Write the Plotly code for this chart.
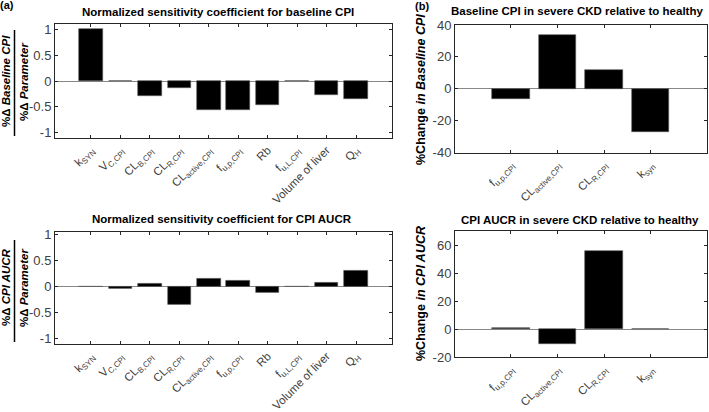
import plotly.graph_objects as go

# sensitivity parameters (panel a)
params_a = ['k<sub>SYN</sub>', 'V<sub>C,CPI</sub>', 'CL<sub>B,CPI</sub>', 'CL<sub>R,CPI</sub>',
            'CL<sub>active,CPI</sub>', 'f<sub>u,p,CPI</sub>', 'Rb', 'f<sub>u,L,CPI</sub>',
            'Volume of liver', 'Q<sub>H</sub>']
sens_baseline = [1.0, 0.0, -0.29, -0.13, -0.555, -0.56, -0.457, 0.0, -0.277, -0.34]
sens_aucr = [0.003, -0.05, 0.045, -0.356, 0.153, 0.12, -0.115, -0.01, 0.07, 0.30]

# CKD vs healthy (panel b)
params_b = ['f<sub>u,p,CPI</sub>', 'CL<sub>active,CPI</sub>', 'CL<sub>R,CPI</sub>', 'k<sub>syn</sub>']
chg_baseline = [-6.3, 33.9, 11.8, -27.0]
chg_aucr = [1.1, -10.5, 55.7, 0.0]

ticks_a = [-1, -0.5, 0, 0.5, 1]
ticks_a_txt = ['-1', '-0.5', '0', '0.5', '1']
ticks_b1 = [-40, -20, 0, 20, 40]
ticks_b1_txt = ['-40', '-20', '0', '20', '40']
ticks_b2 = [-20, 0, 20, 40, 60]
ticks_b2_txt = ['-20', '0', '20', '40', '60']

W, H = 709, 412
FONT = 'Arial, Liberation Sans, sans-serif'
AX = '#262626'


def px(x):
    return x / W


def py(y):
    return 1 - y / H


fig = go.Figure()
panels = [
    (params_a, sens_baseline, 'x', 'y'),
    (params_a, sens_aucr, 'x2', 'y2'),
    (params_b, chg_baseline, 'x3', 'y3'),
    (params_b, chg_aucr, 'x4', 'y4'),
]
for cats, vals, xa, ya in panels:
    fig.add_trace(go.Bar(x=cats, y=vals, xaxis=xa, yaxis=ya, width=0.8,
                         marker=dict(color='black', line=dict(color='#555555', width=0.6)),
                         showlegend=False))

common_x = dict(type='category', showline=True, mirror='ticks', linecolor=AX, linewidth=1,
                ticks='inside', ticklen=3, tickcolor=AX, tickangle=-45, automargin=False,
                tickfont=dict(family=FONT, size=11.5, color='#404040'), showgrid=False,
                zeroline=False, fixedrange=True)
common_y = dict(showline=True, mirror='ticks', linecolor=AX, linewidth=1,
                ticks='inside', ticklen=3, tickcolor=AX, automargin=False,
                tickfont=dict(family=FONT, size=13, color='#404040'), showgrid=False,
                zeroline=True, zerolinecolor='#888888', zerolinewidth=1)

fig.update_layout(
    width=W, height=H, margin=dict(l=0, r=0, t=0, b=0),
    plot_bgcolor='white', paper_bgcolor='white', bargap=0,
    xaxis=dict(common_x, domain=[px(55), px(392)], range=[-1.22, 10.22], anchor='y'),
    yaxis=dict(common_y, domain=[py(138), py(24)], range=[-1.1, 1.1], anchor='x',
               tickvals=ticks_a, ticktext=ticks_a_txt),
    xaxis2=dict(common_x, domain=[px(55), px(392)], range=[-1.22, 10.22], anchor='y2'),
    yaxis2=dict(common_y, domain=[py(344), py(231.7)], range=[-1.1, 1.05], anchor='x2',
                tickvals=ticks_a, ticktext=ticks_a_txt),
    xaxis3=dict(common_x, domain=[px(455), px(706.5)], range=[-1.2, 4.2], anchor='y3'),
    yaxis3=dict(common_y, domain=[py(152.7), py(25)], range=[-40, 40], anchor='x3',
                tickvals=ticks_b1, ticktext=ticks_b1_txt),
    xaxis4=dict(common_x, domain=[px(455), px(706.5)], range=[-1.2, 4.2], anchor='y4'),
    yaxis4=dict(common_y, domain=[py(357.3), py(231)], range=[-20, 70], anchor='x4',
                tickvals=ticks_b2, ticktext=ticks_b2_txt),
)

titles = [
    ('Normalized sensitivity coefficient for baseline CPI', 218, 12),
    ('Normalized sensitivity coefficient for CPI AUCR', 222, 219),
    ('Baseline CPI in severe CKD relative to healthy', 577, 11),
    ('CPI AUCR in severe CKD relative to healthy', 580, 220),
]
for txt, x, y in titles:
    fig.add_annotation(text='<b>' + txt + '</b>', x=px(x), y=py(y), xref='paper', yref='paper',
                       showarrow=False, xanchor='center', yanchor='middle',
                       font=dict(family=FONT, size=11.5, color='black'))

for txt, x, y in [('(a)', 7, 5), ('(b)', 422, 6)]:
    fig.add_annotation(text='<b>' + txt + '</b>', x=px(x), y=py(y), xref='paper', yref='paper',
                       showarrow=False, xanchor='center', yanchor='middle',
                       font=dict(family=FONT, size=11, color='black'))

# y labels (left ones written as a fraction)
ylabels = [
    ('<b>%Δ <i>Baseline CPI</i></b>', 6, 81, 11.5),
    ('<b>%Δ <i>Parameter</i></b>', 24, 82, 11.5),
    ('<b>%Δ <i>CPI AUCR</i></b>', 6, 287, 11.5),
    ('<b>%Δ <i>Parameter</i></b>', 24, 288, 11.5),
    ('<b>%Change <i>in Baseline CPI</i></b>', 421, 90, 12.5),
    ('<b>%Change <i>in CPI AUCR</i></b>', 421, 294, 12.5),
]
for txt, x, y, s in ylabels:
    fig.add_annotation(text=txt, x=px(x), y=py(y), xref='paper', yref='paper',
                       showarrow=False, textangle=-90, xanchor='center', yanchor='middle',
                       font=dict(family=FONT, size=s, color='black'))

for y0, y1 in [(30, 136), (240, 342)]:
    fig.add_shape(type='line', xref='paper', yref='paper', x0=px(14.5), x1=px(14.5),
                  y0=py(y0), y1=py(y1), line=dict(color='black', width=1.5))

# page body has an 8px default margin; drop it so the figure fills the window
fig.write_html("out.html", config={'displayModeBar': False},
               post_script="document.body.style.margin='0';")
